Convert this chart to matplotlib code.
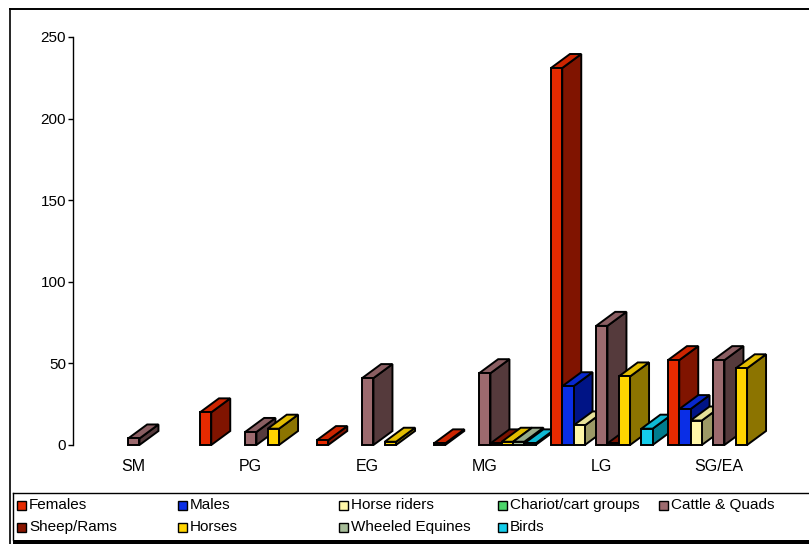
import numpy as np
import matplotlib.pyplot as plt
from matplotlib.patches import Polygon, Rectangle
from matplotlib.colors import to_rgb

plt.rcParams['font.family'] = ['Liberation Sans', 'DejaVu Sans']

# --- data ---
categories = ['SM', 'PG', 'EG', 'MG', 'LG', 'SG/EA']
series = ['Females', 'Males', 'Horse riders', 'Chariot/cart groups', 'Cattle & Quads',
          'Sheep/Rams', 'Horses', 'Wheeled Equines', 'Birds']
nan = np.nan
females = [nan, 20, 3, 1, 231, 52]
males = [nan, nan, nan, nan, 36, 22]
horse_riders = [nan, nan, nan, nan, 12, 15]
chariots = [nan, nan, nan, nan, nan, nan]
cattle = [4, 8, 41, 44, 73, 52]
sheep = [nan, nan, nan, 1, 1, nan]
horses = [nan, 10, 2, 2, 42, 47]
wheeled = [nan, nan, nan, 2, nan, nan]
birds = [nan, nan, nan, 1, 10, nan]
values = [females, males, horse_riders, chariots, cattle, sheep, horses, wheeled, birds]

front_cols = ['#E62A00', '#0A2EE6', '#FFF7A8', '#4CD46A', '#9C6A6E',
              '#8A1600', '#FFD400', '#A6BC98', '#14CDEB']
side_cols = ['#801400', '#001486', '#9C9966', '#2A7A3C', '#553A3C',
             '#4E0C00', '#8C7400', '#6C7C60', '#007C8E']

W, H = 809, 544
fig = plt.figure(figsize=(W / 100, H / 100), dpi=100)

# axes placed in pixel terms: y=0 at 445px, y=250 at 37px, spine at x=73px
x0_px, y0_px, ytop_px = 73, 445, 37
cat_px = 117.0       # distance between categories
first_px = 133.8     # centre of first category
ax = fig.add_axes([x0_px / W, (H - y0_px) / H, (W - x0_px) / W, (y0_px - ytop_px) / H])
ax.set_xlim(-(first_px - x0_px) / cat_px, (W - first_px) / cat_px)
ax.set_ylim(0, 250)

ppx = cat_px                      # pixels per x unit
ppy = (y0_px - ytop_px) / 250.0   # pixels per y unit
slot = 11.3 / ppx                 # width of one bar
ddx = 19 / ppx                    # depth offset
ddy = 14 / ppy


def mix(a, b, t):
    a, b = np.array(to_rgb(a)), np.array(to_rgb(b))
    return tuple(a * (1 - t) + b * t)


def bar3d(x, h, front, side):
    kw = dict(edgecolor='black', linewidth=1.4, joinstyle='miter', clip_on=False)
    x1 = x + slot
    ax.add_patch(Polygon([(x1, 0), (x1 + ddx, ddy), (x1 + ddx, h + ddy), (x1, h)],
                         facecolor=side, **kw))
    ax.add_patch(Polygon([(x, h), (x1, h), (x1 + ddx, h + ddy), (x + ddx, h + ddy)],
                         facecolor=mix(front, side, 0.25), **kw))
    ax.add_patch(Rectangle((x, 0), slot, h, facecolor=front, **kw))


for i in range(len(categories)):
    for j, vals in enumerate(values):
        v = vals[i]
        if np.isnan(v):
            continue
        bar3d(i + (j - 4.5) * slot, v, front_cols[j], side_cols[j])

for s in ['top', 'right', 'bottom']:
    ax.spines[s].set_visible(False)
ax.spines['left'].set_linewidth(1.0)
ax.set_yticks(range(0, 251, 50))
ax.tick_params(axis='y', direction='out', length=3.6, width=1.0, labelsize=11, pad=1.5)
ax.set_xticks(range(len(categories)))
ax.set_xticklabels(categories, fontsize=11.5)
ax.tick_params(axis='x', length=0, pad=10)


# --- frame and legend, in pixel coordinates ---
def px(x, y):
    return x / W, 1 - y / H


def fig_line(xs, ys, lw):
    fx = [x / W for x in xs]
    fy = [1 - y / H for y in ys]
    fig.add_artist(plt.Line2D(fx, fy, color='black', linewidth=lw, transform=fig.transFigure))


fig_line([10, W], [8.5, 8.5], 1.4)
fig_line([10, 10], [8.5, H], 1.2)
fig_line([13, W], [493, 493], 1.0)
fig_line([13, 13], [493, 540], 1.0)
fig.add_artist(Rectangle(px(13, H), (W - 13) / W, 4.5 / H, facecolor='black',
                         edgecolor='none', transform=fig.transFigure))

col_x = [17, 178, 339, 498, 659]
row_y = [505, 527]
for k, name in enumerate(series):
    r, c = divmod(k, 5)
    mx, my = col_x[c], row_y[r]
    fig.add_artist(Rectangle(px(mx, my + 4.5), 9 / W, 9 / H, facecolor=front_cols[k],
                             edgecolor='black', linewidth=1.0, transform=fig.transFigure))
    fx, fy = px(mx + 12, my)
    fig.text(fx, fy, name, fontsize=11, va='center', ha='left')

fig.savefig('out.png', dpi=100)
